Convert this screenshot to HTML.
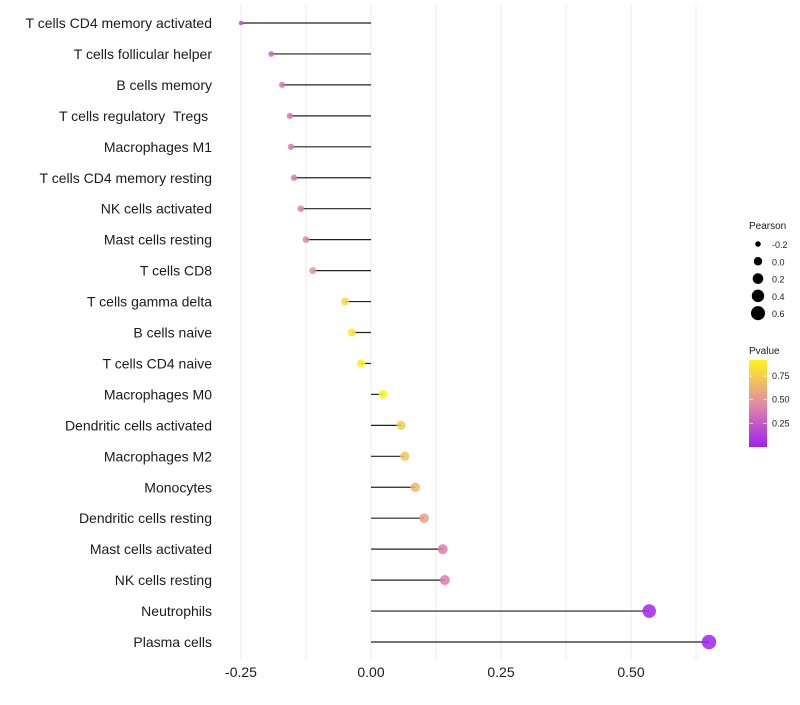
<!DOCTYPE html>
<html><head><meta charset="utf-8"><style>
body{margin:0;background:#fff;font-family:"Liberation Sans",sans-serif}
text{white-space:pre}
</style></head><body>
<svg id="chart" width="800" height="700" font-family="Liberation Sans, sans-serif"></svg>
<script>
const categories=["T cells CD4 memory activated","T cells follicular helper","B cells memory","T cells regulatory  Tregs ","Macrophages M1","T cells CD4 memory resting","NK cells activated","Mast cells resting","T cells CD8","T cells gamma delta","B cells naive","T cells CD4 naive","Macrophages M0","Dendritic cells activated","Macrophages M2","Monocytes","Dendritic cells resting","Mast cells activated","NK cells resting","Neutrophils","Plasma cells"];
const pearson=[-0.25,-0.192,-0.171,-0.156,-0.154,-0.148,-0.135,-0.125,-0.112,-0.05,-0.037,-0.019,0.023,0.058,0.065,0.085,0.102,0.138,0.142,0.535,0.65];
const pvalue=[0.2,0.3,0.35,0.38,0.38,0.4,0.42,0.45,0.5,0.8,0.85,0.9,0.92,0.75,0.72,0.65,0.55,0.4,0.4,0.02,0.01];
const xTicks=[-0.25,0,0.25,0.5];
const xTickLabels=["-0.25","0.00","0.25","0.50"];
const sizeLegend=[-0.2,0,0.2,0.4,0.6];
const sizeLegendLabels=["-0.2","0.0","0.2","0.4","0.6"];
const colorTicks=[0.25,0.5,0.75];
const colorTickLabels=["0.25","0.50","0.75"];

const NS="http://www.w3.org/2000/svg";
const svg=document.getElementById('chart');
const X=v=>371+v*520;
const Y=i=>23+i*30.95;
const R=v=>Math.sqrt(5+(v+0.25)*52);
function col(p){
  const t=Math.max(0,Math.min(1,p/0.92));
  const a=[160,32,240],b=[226,140,165],c=[255,245,25];
  let s,e,u; if(t<0.5){s=a;e=b;u=t/0.5}else{s=b;e=c;u=(t-0.5)/0.5}
  return `rgb(${s.map((x,k)=>Math.round(x+(e[k]-x)*u)).join(',')})`;
}
function el(tag,attrs,parent){const n=document.createElementNS(NS,tag);for(const k in attrs)n.setAttribute(k,attrs[k]);(parent||svg).appendChild(n);return n;}
for(let v=-0.25;v<=0.66;v+=0.125){
  const g=el('line',{x1:X(v),x2:X(v),y1:5,y2:660,stroke:'#ebebeb','stroke-width':1});
  
  
}
categories.forEach((c,i)=>{
  const t=el('text',{x:212,y:Y(i)+5,'text-anchor':'end','font-size':14,fill:'#1a1a1a'});
  t.textContent=c;
  
  
  const l=el('line',{x1:X(0),x2:X(pearson[i]),y1:Y(i),y2:Y(i),stroke:'#222','stroke-width':1.2});
  
  
  const p=el('circle',{cx:X(pearson[i]),cy:Y(i),r:R(pearson[i]),fill:col(pvalue[i]),'fill-opacity':0.85});
  
  
});
xTicks.forEach((v,i)=>{
  const t=el('text',{x:X(v),y:677,'text-anchor':'middle','font-size':14,fill:'#1a1a1a'});
  t.textContent=xTickLabels[i];
  
  
});
let t=el('text',{x:749,y:229,'font-size':10,fill:'#1a1a1a'});t.textContent='Pearson';


sizeLegend.forEach((v,i)=>{
  const c=el('circle',{cx:758,cy:244+i*17.3,r:R(v),fill:'#000'});
  
  
  const s=el('text',{x:772,y:248+i*17.3,'font-size':9,fill:'#1a1a1a'});s.textContent=sizeLegendLabels[i];
  
  
});
t=el('text',{x:749,y:354,'font-size':10,fill:'#1a1a1a'});t.textContent='Pvalue';


const defs=el('defs',{});
const lg=el('linearGradient',{id:'pg',x1:0,y1:1,x2:0,y2:0},defs);
for(let k=0;k<=10;k++)el('stop',{offset:k/10,'stop-color':col(k/10*0.92)},lg);
const bar=el('rect',{x:749,y:360,width:18,height:87,fill:'url(#pg)'});


colorTicks.forEach((v,i)=>{
  const y=447-v/0.92*87;
  el('line',{x1:749,x2:753,y1:y,y2:y,stroke:'#fff','stroke-width':0.6});
  el('line',{x1:763,x2:767,y1:y,y2:y,stroke:'#fff','stroke-width':0.6});
  const s=el('text',{x:772,y:y+3,'font-size':9,fill:'#1a1a1a'});s.textContent=colorTickLabels[i];
  
  
});
</script>
</body></html>
